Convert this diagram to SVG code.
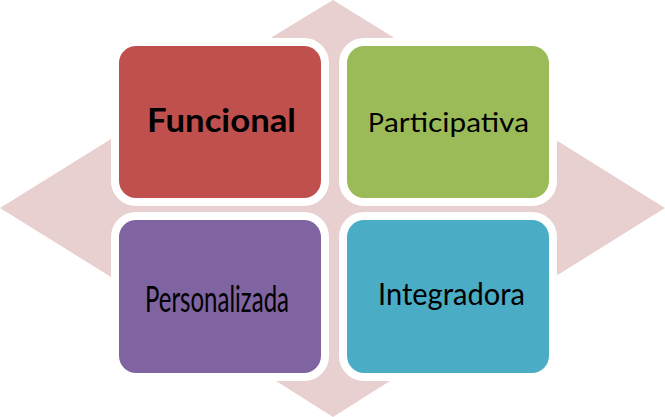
<svg xmlns="http://www.w3.org/2000/svg" width="665" height="417" viewBox="0 0 665 417">
<style>
.box{stroke:#ffffff;stroke-width:16;paint-order:stroke}
.lbl{font-family:Lato,"Open Sans","Liberation Sans",sans-serif;fill:#000000}
</style>
<rect x="0" y="0" width="665" height="417" fill="#ffffff"/>
<g id="connectors">
<path id="quad-arrow" d="M333,0 L393,37 L393,140 L556,140 L665,208 L556,276 L390,276 L390,381 L333,417 L276,381 L276,277 L111,277 L0,208 L111,139 L272,139 L272,37 Z" fill="#E8CFD0"/>
</g>
<g id="node-funcional">
<rect class="box" x="119" y="46" width="202" height="152" rx="17" ry="17" fill="#C0504D"/>
<text class="lbl" x="147" y="132" font-size="32" font-weight="bold" textLength="149" lengthAdjust="spacingAndGlyphs">Funcional</text>
</g>
<g id="node-participativa">
<rect class="box" x="347" y="46" width="202" height="152" rx="17" ry="17" fill="#9BBB59"/>
<text class="lbl" x="368" y="132" font-size="26.5"><tspan>P</tspan><tspan x="384" textLength="145" lengthAdjust="spacingAndGlyphs">articipativa</tspan></text>
</g>
<g id="node-personalizada">
<rect class="box" x="119" y="220" width="202" height="153" rx="17" ry="17" fill="#8064A2"/>
<text class="lbl" x="145" y="312" font-size="37.5" textLength="144" lengthAdjust="spacingAndGlyphs">Personalizada</text>
</g>
<g id="node-integradora">
<rect class="box" x="347" y="220" width="202" height="153" rx="17" ry="17" fill="#4BACC6"/>
<text class="lbl" x="378" y="305" font-size="31" textLength="147" lengthAdjust="spacingAndGlyphs">Integradora</text>
</g>
</svg>
